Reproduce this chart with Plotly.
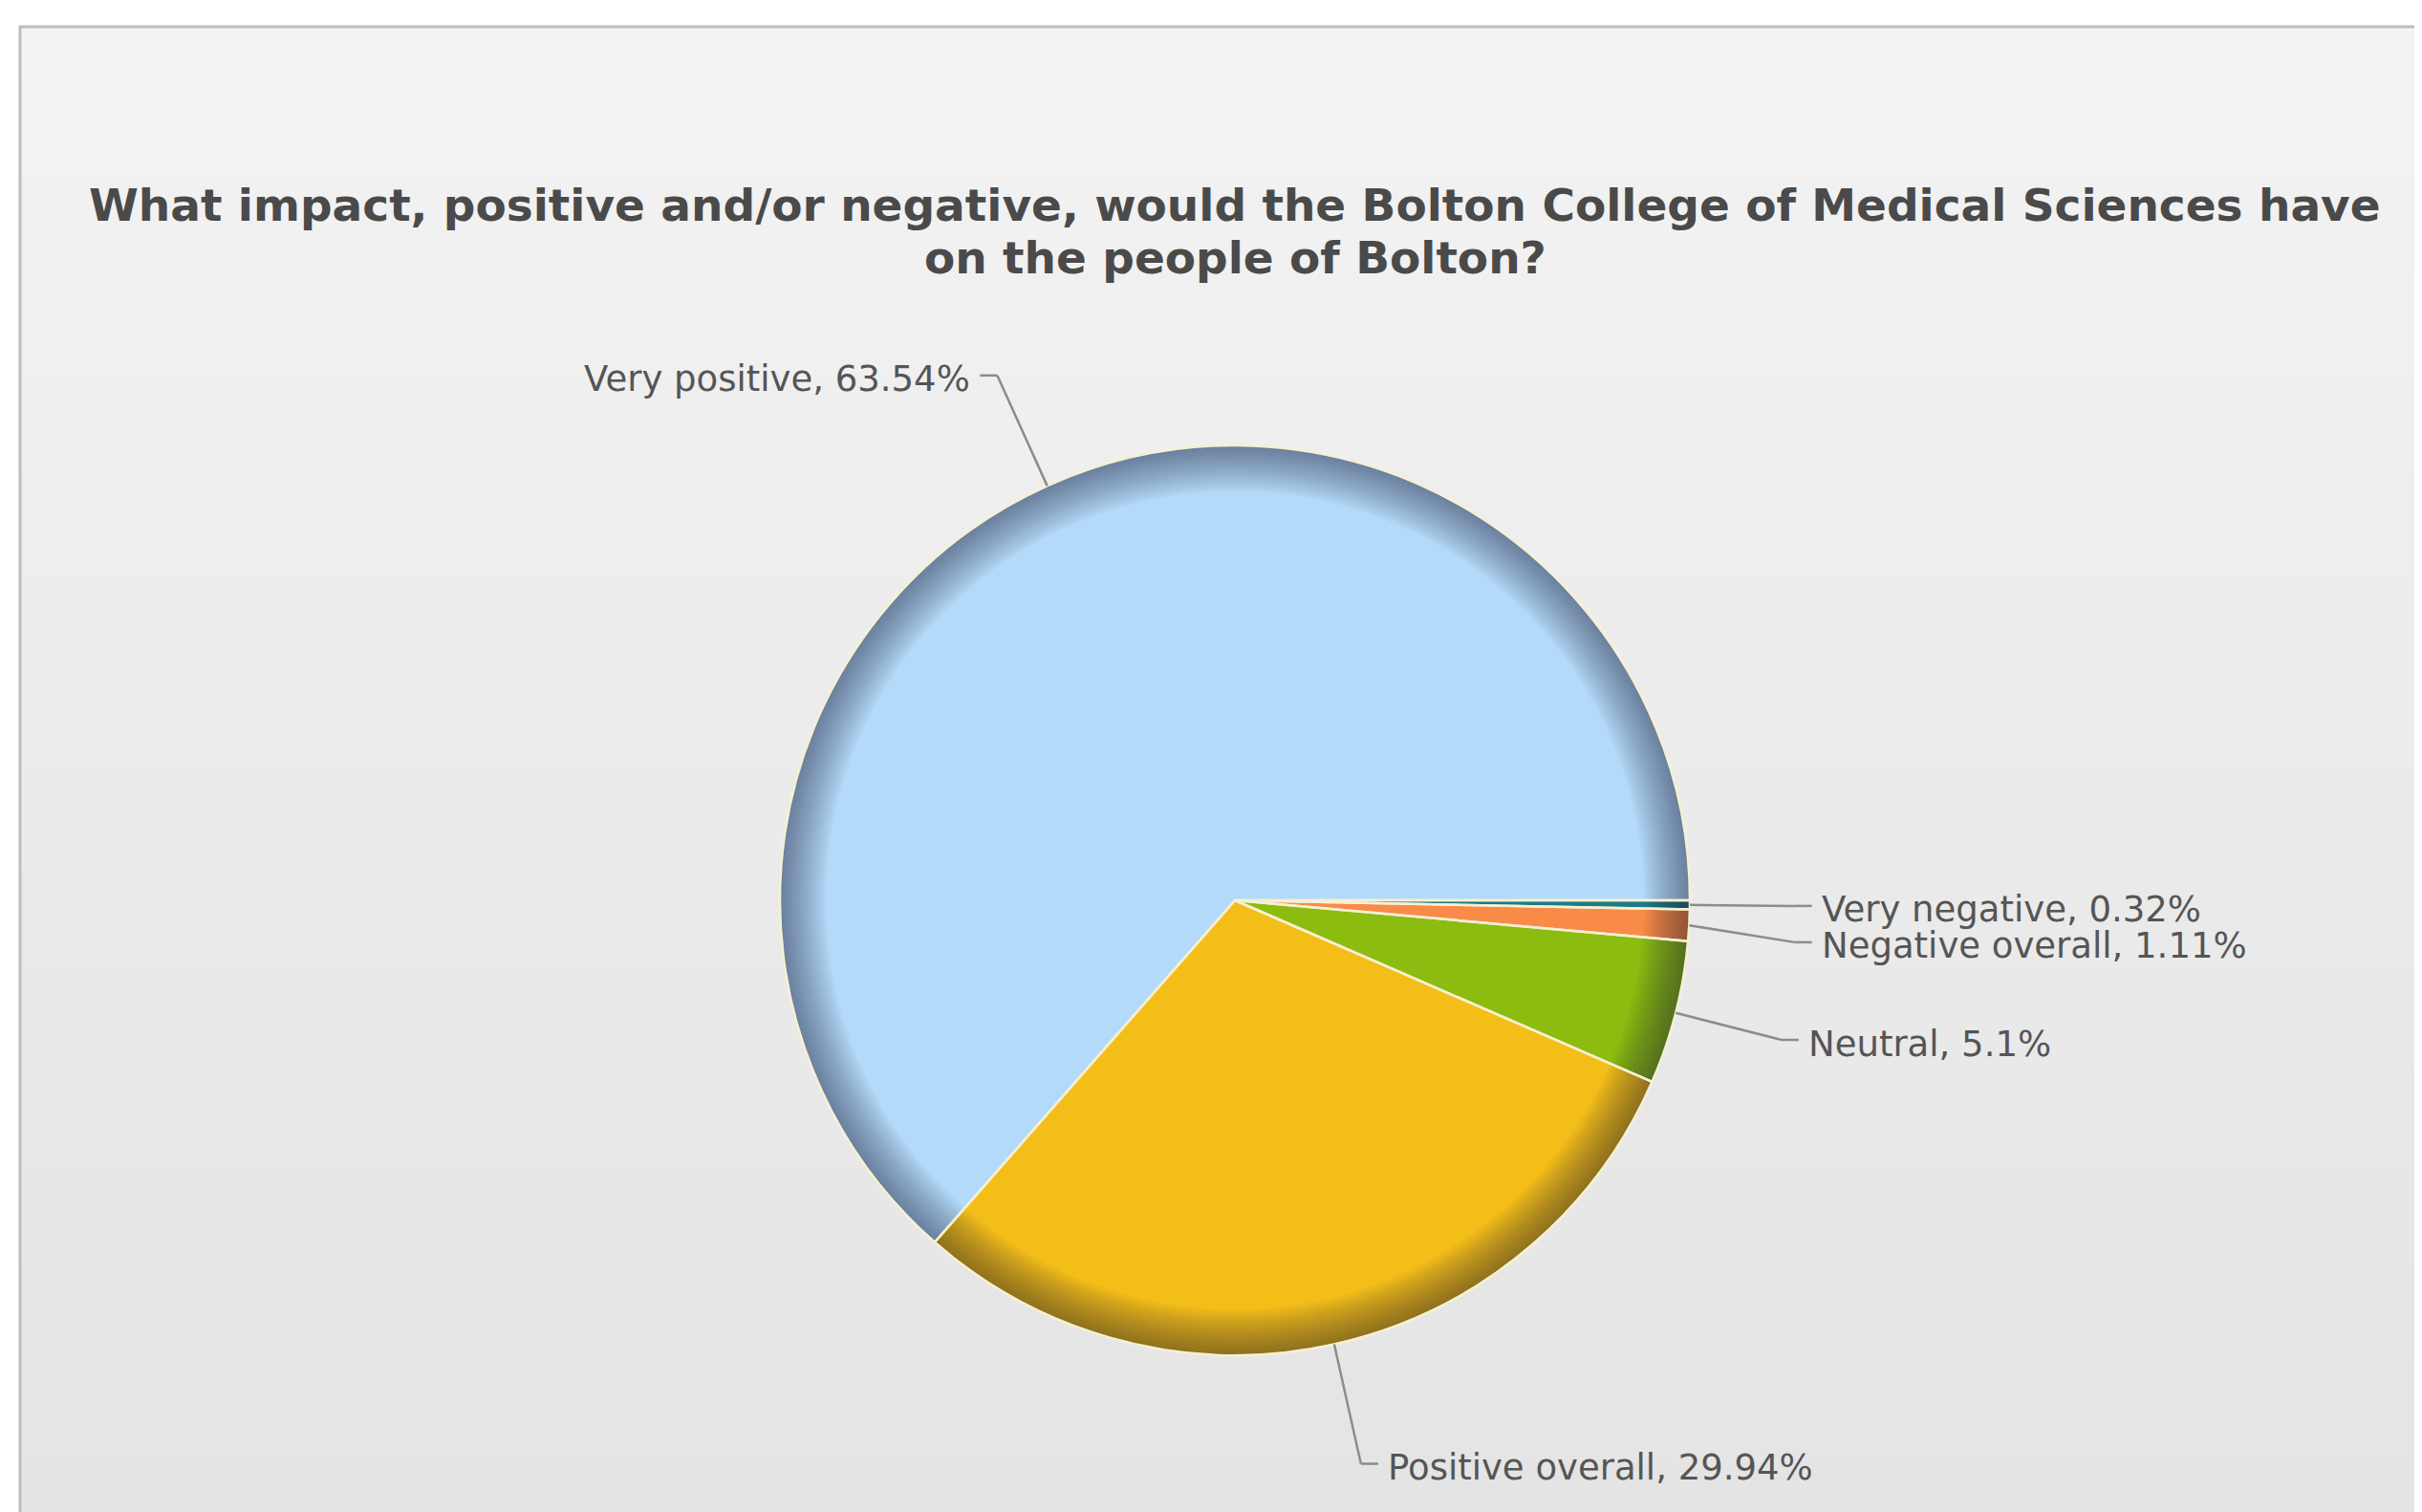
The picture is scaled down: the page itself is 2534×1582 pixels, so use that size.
import math
import plotly.graph_objects as go

# ---- data ----
categories = ["Very negative", "Negative overall", "Neutral", "Positive overall", "Very positive"]
values = [0.32, 1.11, 5.1, 29.94, 63.54]
label_texts = ["0.32%", "1.11%", "5.1%", "29.94%", "63.54%"]
colors = ["#1B7C86", "#F98B48", "#8CBC10", "#F4BE18", "#B3DAF8"]
title_lines = ["What impact, positive and/or negative, would the Bolton College of Medical Sciences have",
               "on the people of Bolton?"]

# ---- layout geometry (pixels in the window) ----
W, H = 2534, 1582
OFF = 8  # default page body margin
CX, CY, R = 1292, 942, 476


def px(x):
    return (x - OFF) / W


def py(y):
    return 1 - (y - OFF) / H


domain = dict(x=[px(CX - R), px(CX + R)], y=[py(CY + R), py(CY - R)])
common = dict(labels=categories, values=values, sort=False, direction="clockwise",
              rotation=90, domain=domain, textinfo="none", showlegend=False)

fig = go.Figure()

# base pie
fig.add_trace(go.Pie(marker=dict(colors=colors, line=dict(width=0)),
                     hovertemplate="%{label}, %{percent}<extra></extra>", **common))

# rim shading rings
n_rings = 16
for i in range(n_rings):
    hole = 1 - 0.10 * (i + 1) / n_rings
    fig.add_trace(go.Pie(hole=hole, hoverinfo="skip",
                         marker=dict(colors=["rgba(25,40,60,0.034)"] * len(values), line=dict(width=0)),
                         **common))

# separator / outline lines on top
fig.add_trace(go.Pie(hoverinfo="skip",
                     marker=dict(colors=["rgba(0,0,0,0)"] * len(values),
                                 line=dict(color="#F6F0D2", width=2.5)),
                     **common))

# ---- background box with vertical gradient ----
shapes = []
box_x0, box_y0 = 21, 28
n_bands = 60
c_top = (243, 243, 243)
c_bot = (228, 228, 228)
for i in range(n_bands):
    t = i / (n_bands - 1)
    c = tuple(round(c_top[k] + (c_bot[k] - c_top[k]) * t) for k in range(3))
    y0 = box_y0 + (H - box_y0) * i / n_bands
    y1 = box_y0 + (H - box_y0) * (i + 1) / n_bands + 1
    shapes.append(dict(type="rect", xref="paper", yref="paper", layer="below",
                       x0=px(box_x0), x1=1.01, y0=py(y0), y1=py(y1),
                       fillcolor="rgb(%d,%d,%d)" % c, line=dict(width=0)))
shapes.append(dict(type="rect", xref="paper", yref="paper", layer="below",
                   x0=px(box_x0), x1=1.01, y0=py(box_y0), y1=-0.01,
                   fillcolor="rgba(0,0,0,0)", line=dict(color="#BDBDBD", width=3)))

# ---- leader lines and labels computed from the values ----
total = sum(values)
cum = 0
items = []
for cat, v, t in zip(categories, values, label_texts):
    mid = (cum + v / 2) / total
    cum += v
    th = 2 * math.pi * mid  # clockwise from 3 o'clock (screen coords)
    ex, ey = CX + R * math.cos(th), CY + R * math.sin(th)
    k = 1.23 + 0.04 * abs(math.sin(th))
    kx, ky = CX + k * R * math.cos(th), CY + k * R * math.sin(th)
    side = 1 if math.cos(th) >= 0 else -1
    items.append(dict(text=f"{cat}, {t}", ex=ex, ey=ey, kx=kx, ky=ky, side=side))

# avoid overlaps (push downward)
for side in (1, -1):
    grp = sorted([it for it in items if it["side"] == side], key=lambda d: d["ky"])
    prev = None
    for it in grp:
        if prev is not None and it["ky"] < prev + 38:
            it["ky"] = prev + 38
        prev = it["ky"]

annotations = []
for it in items:
    s = it["side"]
    hx = it["kx"] + s * 18
    for (a, b, c, d) in [(it["ex"], it["ey"], it["kx"], it["ky"]), (it["kx"], it["ky"], hx, it["ky"])]:
        shapes.append(dict(type="line", xref="paper", yref="paper",
                           x0=px(a), y0=py(b), x1=px(c), y1=py(d),
                           line=dict(color="#8C8C8C", width=2.5)))
    annotations.append(dict(xref="paper", yref="paper", x=px(hx + s * 8), y=py(it["ky"] + 4),
                            text=it["text"], showarrow=False,
                            xanchor="left" if s > 0 else "right", yanchor="middle",
                            font=dict(family="DejaVu Sans, Verdana, sans-serif", size=37, color="#555555")))

for line, ty in zip(title_lines, [215, 270]):
    annotations.append(dict(xref="paper", yref="paper", x=px(1292), y=py(ty), text=line,
                            showarrow=False, xanchor="center", yanchor="middle",
                            font=dict(family="DejaVu Sans, Verdana, sans-serif", size=47,
                                      color="#4A4A4A", weight="bold")))

fig.update_layout(width=W, height=H, margin=dict(l=0, r=0, t=0, b=0),
                  paper_bgcolor="white", plot_bgcolor="white",
                  shapes=shapes, annotations=annotations)

fig.write_html("out.html")
